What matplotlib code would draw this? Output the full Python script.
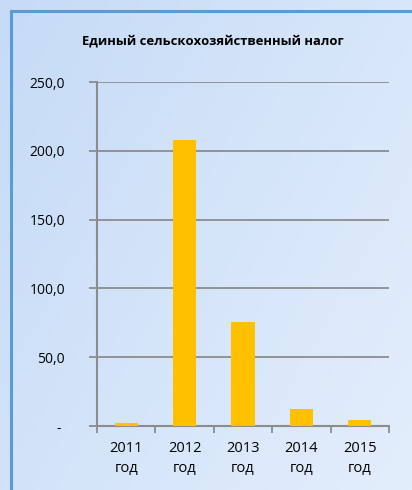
import numpy as np
import matplotlib.pyplot as plt
from matplotlib.colors import LinearSegmentedColormap
from matplotlib.patches import Rectangle
from matplotlib.ticker import FuncFormatter

plt.rcParams['font.family'] = ['Open Sans', 'DejaVu Sans']

# data
years = ['2011\nгод', '2012\nгод', '2013\nгод', '2014\nгод', '2015\nгод']
values = [2.4, 207.8, 75.6, 12.4, 4.4]
title = 'Единый сельскохозяйственный налог'

fig = plt.figure(figsize=(4.12, 4.9), dpi=100)

# background with soft gradient
bg = fig.add_axes([0, 0, 1, 1], zorder=0)
gx, gy = np.meshgrid(np.linspace(0, 1, 200), np.linspace(0, 1, 200))
grad = (gx * 0.6 + gy * 0.4)
cmap = LinearSegmentedColormap.from_list('bgc', ['#c6dbf7', '#e3eefc'])
bg.imshow(grad, cmap=cmap, extent=[0, 1, 0, 1], aspect='auto', origin='upper')
bg.add_patch(Rectangle((10.5 / 412, -0.1), 1.2, 1 - 10.5 / 490 + 0.1,
                       transform=bg.transAxes, fill=False,
                       edgecolor='#5b9bd5', linewidth=2.2))
bg.set_xlim(0, 1)
bg.set_ylim(0, 1)
bg.axis('off')

ax = fig.add_axes([97 / 412, 1 - 426 / 490, 292 / 412, 344 / 490], zorder=1)
ax.patch.set_alpha(0)

x = np.arange(len(years))
ax.bar(x, values, width=0.4, color='#ffc000', zorder=3)

ax.set_xlim(-0.5, len(years) - 0.5)
ax.set_ylim(0, 250)
ax.set_yticks([0, 50, 100, 150, 200, 250])
ax.yaxis.set_major_formatter(FuncFormatter(
    lambda v, p: '- ' if v == 0 else f'{v:.1f}'.replace('.', ',')))
ax.grid(axis='y', color='#8c8c8c', linewidth=1.3, zorder=1)

ax.set_xticks(np.arange(len(years) + 1) - 0.5)
ax.set_xticklabels([])
ax.set_xticks(x, minor=True)
ax.set_xticklabels(years, minor=True, linespacing=1.4)
ax.tick_params(axis='x', which='minor', length=0, pad=11, labelsize=10.5)
ax.tick_params(axis='x', which='major', length=5, width=1.3, color='#8c8c8c')
ax.tick_params(axis='y', length=6, width=1.3, color='#8c8c8c', pad=17, labelsize=10)
for lbl in ax.get_yticklabels():
    lbl.set_horizontalalignment('right')

for s in ['top', 'right']:
    ax.spines[s].set_visible(False)
for s in ['left', 'bottom']:
    ax.spines[s].set_color('#8c8c8c')
    ax.spines[s].set_linewidth(1.5)

fig.text(213 / 412, 1 - 41 / 490, title, ha='center', va='center',
         fontsize=9.4, fontweight='bold')

fig.savefig('out.png', dpi=100)
